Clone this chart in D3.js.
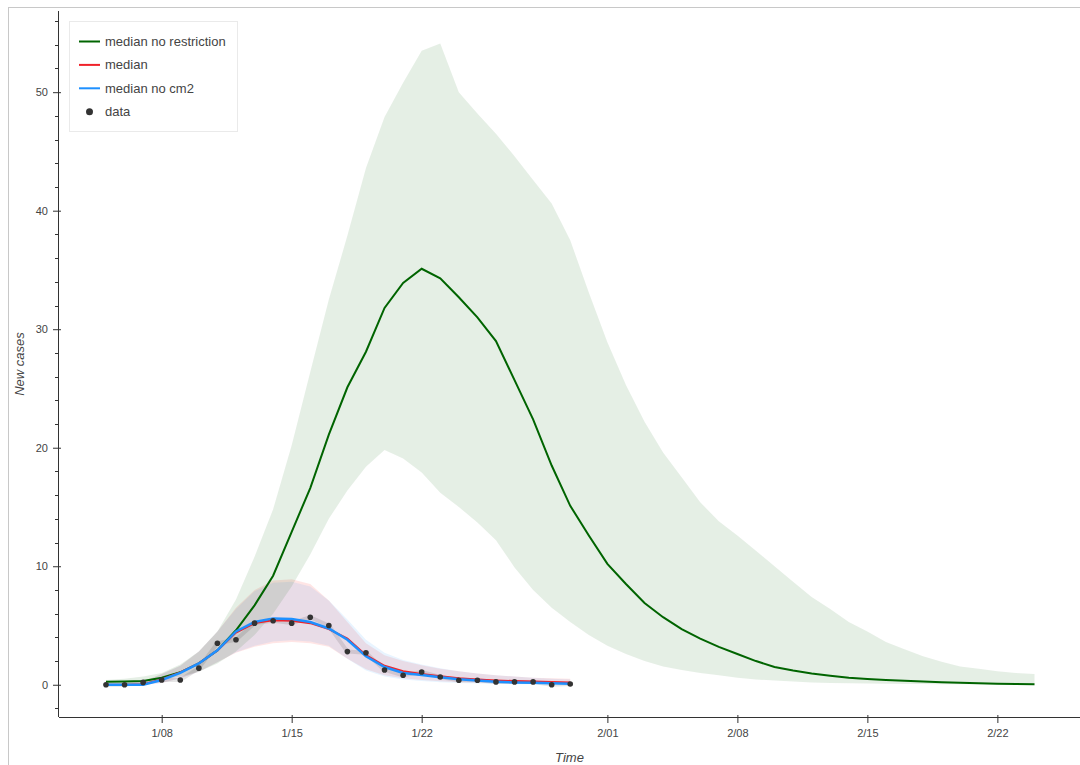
<!DOCTYPE html>
<html>
<head>
<meta charset="utf-8">
<script src="https://cdn.jsdelivr.net/npm/d3@7/dist/d3.min.js"></script>
<style>
  html, body { margin: 0; padding: 0; background: #fff; }
  svg { display: block; font-family: "Liberation Sans", Arial, Helvetica, sans-serif; }
</style>
</head>
<body>
<svg id="chart" width="1080" height="765"></svg>
<script>
// ---- data -------------------------------------------------------------
// projection without restrictions (daily)
const projDates = ["01/05","01/06","01/07","01/08","01/09","01/10","01/11","01/12","01/13","01/14",
  "01/15","01/16","01/17","01/18","01/19","01/20","01/21","01/22","01/23","01/24",
  "01/25","01/26","01/27","01/28","01/29","01/30","01/31","02/01","02/02","02/03",
  "02/04","02/05","02/06","02/07","02/08","02/09","02/10","02/11","02/12","02/13",
  "02/14","02/15","02/16","02/17","02/18","02/19","02/20","02/21","02/22","02/23","02/24"];
const noRestrictionMedian = [0.25,0.27,0.32,0.6,1.05,1.8,2.9,4.6,6.7,9.2,
  12.9,16.6,21.1,25.1,28.1,31.8,33.9,35.1,34.3,32.7,
  31.0,29.0,25.7,22.4,18.5,15.1,12.6,10.2,8.5,6.9,
  5.7,4.7,3.9,3.2,2.6,2.0,1.5,1.2,0.95,0.77,
  0.6,0.49,0.4,0.34,0.28,0.22,0.17,0.13,0.09,0.06,0.05];
const noRestrictionUpper = [0.4,0.5,0.7,1.0,1.7,2.8,4.5,7.2,10.8,14.8,
  20.2,26.4,32.5,37.9,43.6,47.9,50.8,53.5,54.1,50.0,
  48.2,46.5,44.6,42.6,40.6,37.5,33.1,28.9,25.3,22.2,
  19.6,17.5,15.4,13.8,12.6,11.3,10.0,8.7,7.4,6.4,
  5.3,4.5,3.6,3.0,2.4,1.95,1.55,1.35,1.15,1.0,0.9];
const noRestrictionLower = [0.1,0.15,0.25,0.4,0.7,1.1,1.8,2.8,4.2,6.0,
  8.3,11.0,14.0,16.4,18.4,19.8,19.1,17.9,16.2,15.0,
  13.7,12.2,9.9,8.0,6.5,5.3,4.2,3.3,2.6,2.0,
  1.55,1.25,1.0,0.8,0.6,0.45,0.35,0.27,0.2,0.15,
  0.12,0.1,0.08,0.07,0.06,0.05,0.04,0.04,0.03,0.03,0.03];

// fitted model and observed counts
const modelDates = ["01/05","01/06","01/07","01/08","01/09","01/10","01/11","01/12","01/13","01/14",
  "01/15","01/16","01/17","01/18","01/19","01/20","01/21","01/22","01/23","01/24",
  "01/25","01/26","01/27","01/28","01/29","01/30"];
const median = [0,0,0.05,0.45,1.05,1.8,2.9,4.4,5.2,5.45,
  5.4,5.2,4.7,3.9,2.5,1.6,1.15,0.9,0.72,0.55,
  0.45,0.37,0.31,0.27,0.23,0.2];
const medianUpper = [0.05,0.1,0.3,0.9,1.6,2.8,4.5,6.5,8.0,8.8,
  8.9,8.5,7.1,5.3,3.5,2.5,2.0,1.65,1.35,1.15,
  0.95,0.8,0.7,0.6,0.55,0.5];
const medianLower = [0,0,0,0.15,0.55,1.1,1.9,2.7,3.2,3.5,
  3.6,3.5,3.2,2.2,1.3,0.8,0.55,0.4,0.3,0.22,
  0.17,0.13,0.1,0.08,0.06,0.05];
const noCm2Median = [0,0,0,0.4,1.0,1.8,2.9,4.5,5.3,5.6,
  5.55,5.3,4.75,3.8,2.4,1.5,1.0,0.83,0.63,0.46,
  0.35,0.26,0.2,0.17,0.12,0.09];
const noCm2Upper = [0,0.05,0.25,0.9,1.6,2.8,4.5,6.4,7.9,8.6,
  8.7,8.3,7.1,5.5,3.8,2.7,2.1,1.7,1.4,1.15,
  0.95,0.8,0.7,0.6,0.5,0.45];
const noCm2Lower = [0,0,0,0.15,0.55,1.1,1.9,2.75,3.3,3.65,
  3.75,3.65,3.3,2.2,1.2,0.7,0.45,0.32,0.22,0.15,
  0.1,0.07,0.05,0.04,0.03,0.02];
const observed = [0,0,0.2,0.4,0.4,1.4,3.5,3.8,5.2,5.4,
  5.2,5.7,5.0,2.8,2.7,1.25,0.8,1.08,0.66,0.38,
  0.38,0.24,0.24,0.24,0,0.07];

const xTickDates = ["01/08","01/15","01/22","02/01","02/08","02/15","02/22"];
const yTicks = [0,10,20,30,40,50];
const legendLabels = ["median no restriction","median","median no cm2","data"];

// ---- layout -----------------------------------------------------------
const parse = d => d3.utcParse("%Y/%m/%d")("2020/" + d);
const fmt = d3.utcFormat("%-m/%d");
const DAY = 864e5;
const refDay = parse("01/08");
const plotLeft = 59, plotRight = 1080, plotTop = 11, plotBottom = 717;

const x = d3.scaleUtc()
  .domain([new Date(+refDay - 5.53 * DAY), new Date(+refDay + 49.45 * DAY)])
  .range([plotLeft, plotRight]);
const y = d3.scaleLinear().domain([-2.72, 56.85]).range([plotBottom, plotTop]);

const svg = d3.select("#chart");

// outer frame
svg.append("line").attr("x1", 8.5).attr("x2", 8.5).attr("y1", 7).attr("y2", 765)
  .attr("stroke", "#c8c8c8");
svg.append("line").attr("x1", 8).attr("x2", 1080).attr("y1", 7.5).attr("y2", 7.5)
  .attr("stroke", "#c8c8c8");

const plot = svg.append("g");

function band(dates, lo, hi) {
  return d3.area()
    .x((d, i) => x(parse(dates[i])))
    .y0((d, i) => y(lo[i]))
    .y1((d, i) => y(hi[i]))(dates);
}
function line(dates, vals) {
  return d3.line()
    .x((d, i) => x(parse(dates[i])))
    .y((d, i) => y(vals[i]))(dates);
}

// uncertainty bands
plot.append("path").attr("d", band(modelDates, medianLower, medianUpper))
  .attr("fill", "red").attr("fill-opacity", 0.1);
plot.append("path").attr("d", band(modelDates, noCm2Lower, noCm2Upper))
  .attr("fill", "dodgerblue").attr("fill-opacity", 0.1);
plot.append("path").attr("d", band(projDates, noRestrictionLower, noRestrictionUpper))
  .attr("fill", "darkgreen").attr("fill-opacity", 0.1);

// observed trace
plot.append("path").attr("d", line(modelDates, observed))
  .attr("fill", "none").attr("stroke", "#000").attr("stroke-opacity", 0.1)
  .attr("stroke-width", 4).attr("stroke-linejoin", "round");

// medians
plot.append("path").attr("d", line(projDates, noRestrictionMedian))
  .attr("fill", "none").attr("stroke", "darkgreen").attr("stroke-width", 2);
plot.append("path").attr("d", line(modelDates, median))
  .attr("fill", "none").attr("stroke", "#f0222a").attr("stroke-width", 2);
plot.append("path").attr("d", line(modelDates, noCm2Median))
  .attr("fill", "none").attr("stroke", "dodgerblue").attr("stroke-width", 2.5);

// observed points
plot.selectAll("circle.obs").data(observed).join("circle").attr("class", "obs")
  .attr("cx", (d, i) => x(parse(modelDates[i])))
  .attr("cy", d => y(d))
  .attr("r", 2.8)
  .attr("fill", "#333");

// ---- axes -------------------------------------------------------------
const xAxis = d3.axisBottom(x)
  .tickValues(xTickDates.map(parse))
  .tickFormat(fmt)
  .tickSize(6).tickSizeOuter(0).tickPadding(6);
const gx = svg.append("g").attr("transform", `translate(0,${plotBottom})`).call(xAxis);
gx.select(".domain").attr("d", `M${plotLeft},0.5H${plotRight}`).attr("stroke", "#333");
gx.selectAll(".tick line").attr("stroke", "#333").attr("y1", -2);
gx.selectAll(".tick text").attr("fill", "#444").attr("font-size", 11)
  .attr("font-family", "Liberation Sans, Arial, sans-serif");

const yAxis = d3.axisLeft(y).tickValues(yTicks).tickFormat(d3.format("d"))
  .tickSize(6).tickSizeOuter(0).tickPadding(5);
const gy = svg.append("g").attr("transform", `translate(${plotLeft},0)`).call(yAxis);
gy.select(".domain").attr("d", `M-0.5,${plotTop}V${plotBottom}`).attr("stroke", "#333");
gy.selectAll(".tick line").attr("stroke", "#333").attr("x1", 2);
gy.selectAll(".tick text").attr("fill", "#444").attr("font-size", 11)
  .attr("font-family", "Liberation Sans, Arial, sans-serif");

// minor ticks on y
const minor = d3.range(-2, 57, 2).filter(v => v % 10 !== 0);
gy.selectAll("line.minor").data(minor).join("line").attr("class", "minor")
  .attr("x1", -4).attr("x2", 0)
  .attr("y1", d => Math.round(y(d)) + 0.5).attr("y2", d => Math.round(y(d)) + 0.5)
  .attr("stroke", "#333");

// axis titles
svg.append("text").attr("x", (plotLeft + plotRight) / 2).attr("y", 762)
  .attr("text-anchor", "middle").attr("font-style", "italic")
  .attr("font-size", 13).attr("fill", "#444").text("Time");
svg.append("text")
  .attr("transform", `translate(24,${(plotTop + plotBottom) / 2}) rotate(-90)`)
  .attr("text-anchor", "middle").attr("font-style", "italic")
  .attr("font-size", 13).attr("fill", "#444").text("New cases");

// ---- legend -----------------------------------------------------------
const lg = svg.append("g");
lg.append("rect").attr("x", 69.5).attr("y", 21.5).attr("width", 168).attr("height", 110)
  .attr("fill", "#fff").attr("fill-opacity", 0.95)
  .attr("stroke", "#e5e5e5").attr("stroke-opacity", 0.8);
const legendColors = ["darkgreen", "#f0222a", "dodgerblue", "#333"];
legendLabels.forEach((lab, i) => {
  const cy = 41.5 + i * 23.4;
  if (i < 3) {
    lg.append("line").attr("x1", 79).attr("x2", 100).attr("y1", cy).attr("y2", cy)
      .attr("stroke", legendColors[i]).attr("stroke-width", 2);
  } else {
    lg.append("circle").attr("cx", 89.5).attr("cy", cy).attr("r", 3.5)
      .attr("fill", legendColors[i]);
  }
  lg.append("text").attr("x", 105).attr("y", cy).attr("dy", "0.35em")
    .attr("font-size", 13).attr("fill", "#444").text(lab);
});
</script>
</body>
</html>
